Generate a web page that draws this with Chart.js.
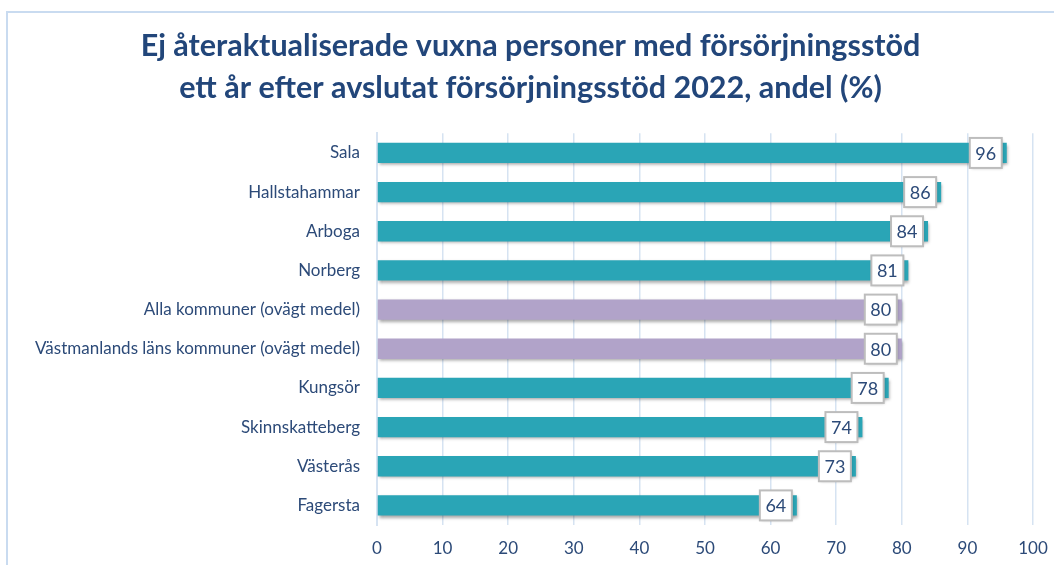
<!DOCTYPE html>
<html><head><meta charset="utf-8">
<script src="https://cdn.jsdelivr.net/npm/chart.js@4.4.1/dist/chart.umd.min.js"></script>
<style>html,body{margin:0;padding:0;background:#fff;}#wrap{width:1054px;height:565px;position:relative;}</style>
</head><body><div id="wrap"><canvas id="c" width="1054" height="565"></canvas></div>
<script>
const categories = ["Sala","Hallstahammar","Arboga","Norberg","Alla kommuner (ovägt medel)","Västmanlands läns kommuner (ovägt medel)","Kungsör","Skinnskatteberg","Västerås","Fagersta"];
const values = [96,86,84,81,80,80,78,74,73,64];
const averageRows = ["Alla kommuner (ovägt medel)","Västmanlands läns kommuner (ovägt medel)"];
const xTicks = [0,10,20,30,40,50,60,70,80,90,100];
const titleLines = ["Ej återaktualiserade vuxna personer med försörjningsstöd","ett år efter avslutat försörjningsstöd 2022, andel (%)"];

const TEAL = "#2aa5b6", PURPLE = "#b1a3c9", TXT = "#2c4a78", GRID = "#d6e3f2";
const barColors = categories.map(c => averageRows.includes(c) ? PURPLE : TEAL);

const deco = {
  id: 'deco',
  beforeDraw(chart) {
    const ctx = chart.ctx;
    ctx.save();
    ctx.strokeStyle = "#c9dbf0"; ctx.lineWidth = 2;
    ctx.strokeRect(7, 12, 1060, 570);
    ctx.restore();
  },
  beforeDatasetsDraw(chart) {
    const ctx = chart.ctx;
    ctx.save();
    ctx.shadowColor = "rgba(0,0,0,0.35)";
    ctx.shadowBlur = 3; ctx.shadowOffsetX = 1; ctx.shadowOffsetY = 2;
  },
  afterDatasetsDraw(chart) {
    const ctx = chart.ctx;
    ctx.restore();
    const meta = chart.getDatasetMeta(0);
    ctx.save();
    ctx.font = "18px Lato";
    ctx.textAlign = "center"; ctx.textBaseline = "middle";
    meta.data.forEach((bar, i) => {
      const txt = String(values[i]);
      const w = 32, h = 30;
      const x1 = bar.x - 5, x0 = x1 - w, y0 = bar.y - h/2;
      ctx.save();
      ctx.shadowColor = "rgba(0,0,0,0.25)"; ctx.shadowBlur = 3; ctx.shadowOffsetX = 1; ctx.shadowOffsetY = 1;
      ctx.fillStyle = "#fff"; ctx.fillRect(x0, y0, w, h);
      ctx.restore();
      ctx.strokeStyle = "#bdbdbd"; ctx.lineWidth = 2;
      ctx.strokeRect(x0, y0, w, h);
      ctx.fillStyle = TXT;
      ctx.fillText(txt, x0 + w/2, bar.y + 1);
    });
    ctx.restore();
  }
};

new Chart(document.getElementById('c'), {
  type: 'bar',
  data: { labels: categories, datasets: [{ data: values, backgroundColor: barColors, barPercentage: 0.52, categoryPercentage: 1.0, borderWidth: 0 }] },
  options: {
    indexAxis: 'y', responsive: false, animation: false,
    layout: { padding: { left: 28, right: 21, top: 26, bottom: 6 } },
    plugins: {
      legend: { display: false }, tooltip: { enabled: false },
      title: { display: true, text: titleLines, color: "#22467a", font: { family: "Lato", size: 30.5, weight: "bold", lineHeight: 1.35 }, padding: { top: 0, bottom: 25 } }
    },
    scales: {
      x: { min: 0, max: 100, afterBuildTicks(s){ s.ticks = xTicks.map(v=>({value:v})); },
           afterFit(s){ s.height = 34; s.paddingRight = 0; s.paddingLeft = 0; },
           grid: { color: GRID, lineWidth: 1.5, drawTicks: false }, border: { display: false },
           ticks: { color: TXT, font: { family: "Lato", size: 17 }, padding: 13 } },
      y: { grid: { display: false }, border: { color: GRID, width: 2 },
           afterFit(s){ s.width = 349; },
           ticks: { color: TXT, font: { family: "Lato", size: 17 }, padding: 9 } }
    }
  },
  plugins: [deco]
});
</script></body></html>
